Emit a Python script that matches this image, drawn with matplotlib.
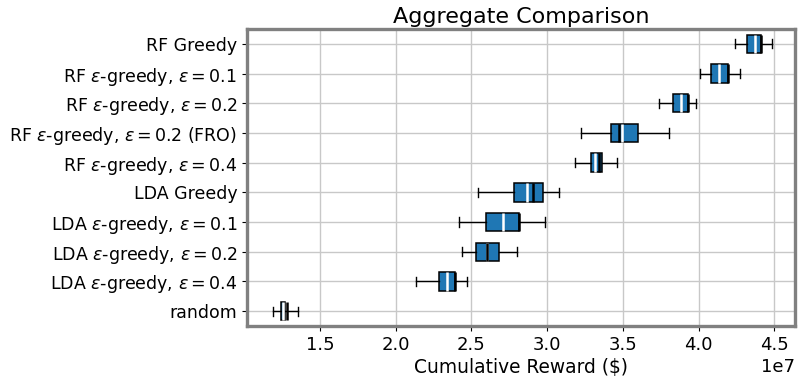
import matplotlib
matplotlib.use("Agg")
import matplotlib.pyplot as plt

# Categories top to bottom
categories = [
    "RF Greedy",
    r"RF $\epsilon$-greedy, $\epsilon = 0.1$",
    r"RF $\epsilon$-greedy, $\epsilon = 0.2$",
    r"RF $\epsilon$-greedy, $\epsilon = 0.2$ (FRO)",
    r"RF $\epsilon$-greedy, $\epsilon = 0.4$",
    "LDA Greedy",
    r"LDA $\epsilon$-greedy, $\epsilon = 0.1$",
    r"LDA $\epsilon$-greedy, $\epsilon = 0.2$",
    r"LDA $\epsilon$-greedy, $\epsilon = 0.4$",
    "random",
]

# Box statistics (in units of dollars)
whislo = [4.241e7, 4.008e7, 3.740e7, 3.226e7, 3.181e7, 2.546e7, 2.415e7, 2.438e7, 2.133e7, 1.191e7]
q1     = [4.318e7, 4.079e7, 3.832e7, 3.422e7, 3.288e7, 2.781e7, 2.596e7, 2.530e7, 2.286e7, 1.240e7]
med    = [4.376e7, 4.138e7, 3.884e7, 3.495e7, 3.313e7, 2.865e7, 2.706e7, 2.603e7, 2.340e7, 1.257e7]
q3     = [4.411e7, 4.192e7, 3.931e7, 3.598e7, 3.365e7, 2.975e7, 2.817e7, 2.680e7, 2.394e7, 1.269e7]
whishi = [4.487e7, 4.274e7, 3.984e7, 3.807e7, 3.460e7, 3.079e7, 2.984e7, 2.800e7, 2.468e7, 1.358e7]
means  = [4.411e7, 4.192e7, 3.931e7, 3.477e7, 3.342e7, 2.909e7, 2.817e7, 2.605e7, 2.394e7, 1.285e7]

stats = []
for i in range(len(categories)):
    stats.append(dict(label=categories[i], whislo=whislo[i], q1=q1[i], med=med[i],
                      q3=q3[i], whishi=whishi[i], mean=means[i], fliers=[]))

fig = plt.figure(figsize=(7.98, 3.83), dpi=100)
fig.subplots_adjust(left=247/798, right=795/798, top=1-29/383, bottom=1-326/383)
ax = fig.add_subplot(111)

n = len(categories)
positions = list(range(n, 0, -1))
ax.bxp(stats, positions=positions, vert=False, widths=0.62, patch_artist=True,
       showmeans=True, meanline=True, showfliers=False,
       boxprops=dict(facecolor="#1f77b4", edgecolor="black", linewidth=1.1),
       medianprops=dict(color="white", linewidth=1.8),
       meanprops=dict(color="black", linestyle="-", linewidth=1.8),
       whiskerprops=dict(color="black", linewidth=1),
       capprops=dict(color="black", linewidth=1))

ax.set_xlim(1.018e7, 4.637e7)
ax.set_ylim(0.5, n + 0.5)
ax.set_yticks(positions)
ax.set_yticklabels(categories, fontsize=12.5)
ax.tick_params(axis="x", labelsize=13)
ax.xaxis.get_offset_text().set_fontsize(13)
ax.grid(True, color="#c8c8c8", linewidth=1)
ax.set_axisbelow(True)
for s in ax.spines.values():
    s.set_color("#808080")
    s.set_linewidth(2.4)
ax.set_xlabel("Cumulative Reward ($)", fontsize=13.4, labelpad=3)
ax.set_title("Aggregate Comparison", fontsize=16, pad=4)

fig.savefig("out.png", dpi=100)
